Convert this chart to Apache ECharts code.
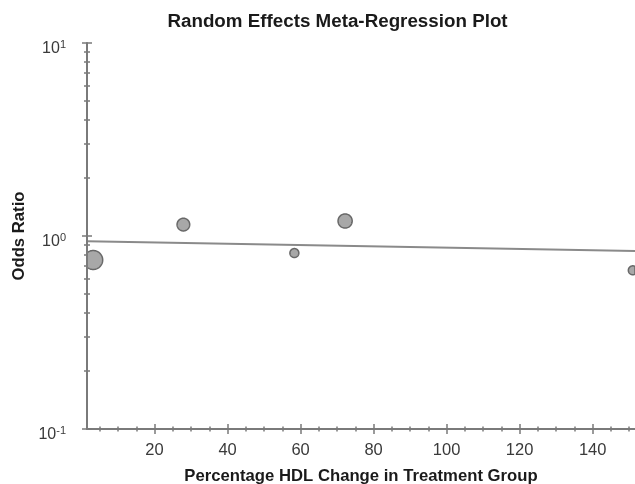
<!DOCTYPE html>
<html>
<head>
<meta charset="utf-8">
<script src="https://cdn.jsdelivr.net/npm/echarts@6/dist/echarts.min.js"></script>
<style>html,body{margin:0;padding:0;background:#fff}#c{width:635px;height:484px}</style>
</head>
<body>
<div id="c"></div>
<script>
// ---- data ----
const hdlChange   = [3.2, 27.9, 58.3, 72.2, 151.0];     // % HDL change (x)
const oddsRatio   = [0.751, 1.146, 0.816, 1.196, 0.664]; // odds ratio (y)
const studyWeight = [3.6, 1.6, 0.8, 2.0, 0.8];          // relative study weight (bubble area)
const regX        = [1.5, 151.6];                       // regression line ends (x)
const regY        = [0.939, 0.836];                     // regression line ends (odds ratio)
const xMajorTicks = [20, 40, 60, 80, 100, 120, 140];
const xMinorTicks = [5, 10, 15, 25, 30, 35, 45, 50, 55, 65, 70, 75, 85, 90, 95, 105, 110, 115, 125, 130, 135, 145, 150];
const yMinorTicks = [0.2, 0.3, 0.4, 0.5, 0.6, 0.7, 0.8, 0.9, 2, 3, 4, 5, 6, 7, 8, 9];
const yTickLabels = {0.1: '-1', 1: '0', 10: '1'};

const FONT = 'Liberation Sans, Arial, sans-serif';
const AX = '#7a7a7a';
const X_MIN = 1.5, X_MAX = 151.6;

const chart = echarts.init(document.getElementById('c'), null, {renderer: 'canvas'});

function xAx(extra) {
  return Object.assign({
    type: 'value', min: X_MIN, max: X_MAX, position: 'bottom',
    axisLine: {show: false, onZero: false},
    axisLabel: {show: false},
    axisTick: {show: false},
    splitLine: {show: false}
  }, extra);
}
function yAuxAx(extra) {
  return Object.assign({
    type: 'value', min: -1, max: 1, position: 'left',
    axisLine: {show: false, onZero: false},
    axisLabel: {show: false},
    axisTick: {show: false},
    splitLine: {show: false}
  }, extra);
}
const yMinorLog = yMinorTicks.map(v => Math.log10(v));

const option = {
  backgroundColor: '#fff',
  animation: false,
  title: {
    text: 'Random Effects Meta-Regression Plot',
    left: 332.5, top: 7, textAlign: 'center',
    textStyle: {fontFamily: FONT, fontSize: 18.8, fontWeight: 'bold', color: '#1a1a1a'}
  },
  grid: {left: 87, right: 0, top: 43, bottom: 55, containLabel: false, outerBoundsMode: 'none'},
  xAxis: [
    xAx({
      axisLine: {show: true, onZero: false, lineStyle: {color: AX, width: 2}},
      axisTick: {show: true, length: 5, customValues: xMajorTicks, lineStyle: {color: AX, width: 1.5}},
      axisLabel: {show: true, customValues: xMajorTicks, margin: 13, fontFamily: FONT, fontSize: 16.5, color: '#3a3a3a'},
      name: 'Percentage HDL Change in Treatment Group',
      nameLocation: 'middle', nameGap: 39,
      nameTextStyle: {fontFamily: FONT, fontSize: 16.7, fontWeight: 'bold', color: '#1a1a1a'}
    }),
    xAx({axisTick: {show: true, inside: true, length: 5, customValues: xMajorTicks, lineStyle: {color: AX, width: 1.5}}}),
    xAx({axisTick: {show: true, length: 2.5, customValues: xMinorTicks, lineStyle: {color: AX, width: 1.5}}}),
    xAx({axisTick: {show: true, inside: true, length: 2.5, customValues: xMinorTicks, lineStyle: {color: AX, width: 1.5}}})
  ],
  yAxis: [
    {
      type: 'log', logBase: 10, min: 0.1, max: 10, position: 'left', z: 5,
      axisLine: {show: true, onZero: false, lineStyle: {color: AX, width: 2}},
      axisTick: {show: true, length: 5, lineStyle: {color: AX, width: 1.5}},
      splitLine: {show: false},
      axisLabel: {
        margin: 21, padding: [12, 0, 0, 0],
        formatter: v => '{b|10}{s|' + (yTickLabels[v] !== undefined ? yTickLabels[v] : '') + '}',
        rich: {
          b: {fontFamily: FONT, fontSize: 16, lineHeight: 20, color: '#3a3a3a'},
          s: {fontFamily: FONT, fontSize: 11, lineHeight: 2, verticalAlign: 'top', color: '#3a3a3a'}
        }
      },
      name: 'Odds Ratio', nameLocation: 'middle', nameGap: 57, nameRotate: 90,
      nameTextStyle: {fontFamily: FONT, fontSize: 16.7, fontWeight: 'bold', color: '#1a1a1a'}
    },
    {
      type: 'log', logBase: 10, min: 0.1, max: 10, position: 'left',
      axisLine: {show: false, onZero: false},
      axisTick: {show: true, inside: true, length: 5, lineStyle: {color: AX, width: 1.5}},
      axisLabel: {show: false}, splitLine: {show: false}
    },
    yAuxAx({axisTick: {show: true, length: 3, customValues: yMinorLog, lineStyle: {color: AX, width: 1.5}}}),
    yAuxAx({axisTick: {show: true, inside: true, length: 3, customValues: yMinorLog, lineStyle: {color: AX, width: 1.5}}})
  ],
  series: [
    {
      type: 'line', xAxisIndex: 0, yAxisIndex: 0,
      data: regX.map((x, i) => [x, regY[i]]),
      showSymbol: false, symbol: 'none',
      lineStyle: {color: '#8a8a8a', width: 2},
      z: 2
    },
    {
      type: 'custom', xAxisIndex: 0, yAxisIndex: 0, clip: true,
      data: hdlChange.map((x, i) => [x, oddsRatio[i], studyWeight[i]]),
      encode: {x: 0, y: 1},
      renderItem: (params, api) => {
        const p = api.coord([api.value(0), api.value(1)]);
        const r = 5 * Math.sqrt(api.value(2));
        const pts = [];
        for (let k = 0; k < 72; k++) {
          const a = k / 72 * Math.PI * 2;
          pts.push([p[0] + r * Math.cos(a), p[1] + r * Math.sin(a)]);
        }
        const cs = params.coordSys;
        const clipped = echarts.graphic.clipPointsByRect(pts, {x: cs.x, y: cs.y, width: cs.width, height: cs.height});
        return {
          type: 'polygon',
          shape: {points: clipped},
          style: {fill: '#a8a8a8', stroke: '#686868', lineWidth: 1.5}
        };
      },
      z: 3
    }
  ]
};
chart.setOption(option);
</script>
</body>
</html>
